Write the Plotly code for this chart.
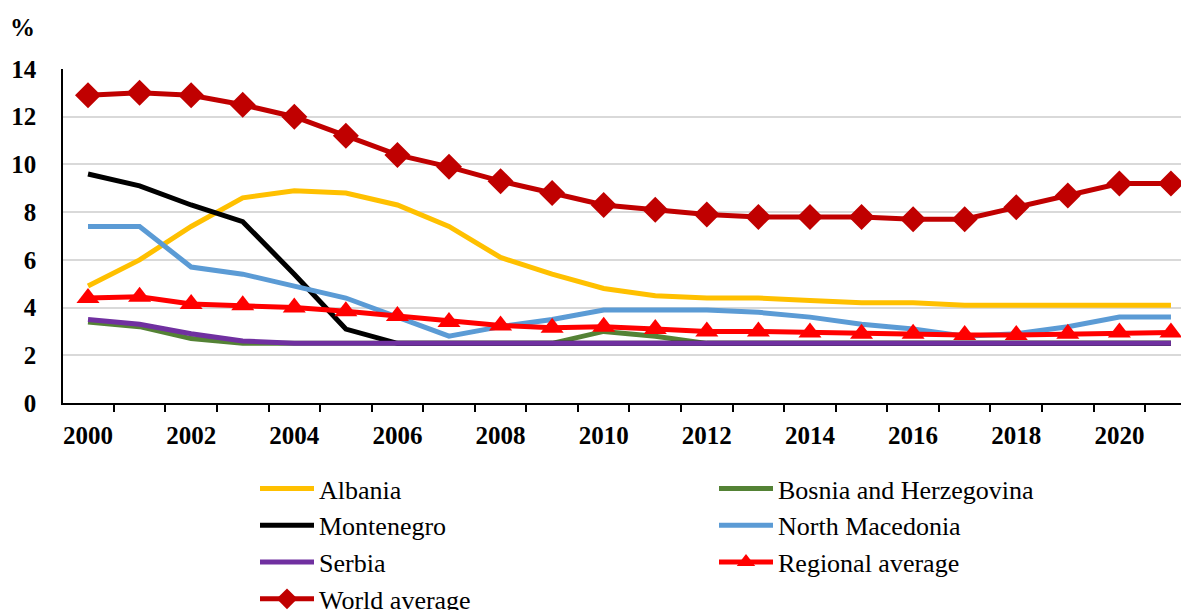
import plotly.graph_objects as go

years = list(range(2000, 2022))
albania = [4.9, 6.0, 7.4, 8.6, 8.9, 8.8, 8.3, 7.4, 6.1, 5.4, 4.8, 4.5, 4.4, 4.4, 4.3, 4.2, 4.2, 4.1, 4.1, 4.1, 4.1, 4.1]
bosnia = [3.4, 3.2, 2.7, 2.5, 2.5, 2.5, 2.5, 2.5, 2.5, 2.5, 3.0, 2.8, 2.5, 2.5, 2.5, 2.5, 2.5, 2.5, 2.5, 2.5, 2.5, 2.5]
montenegro = [9.6, 9.1, 8.3, 7.6, 5.4, 3.1, 2.5, 2.5, 2.5, 2.5, 2.5, 2.5, 2.5, 2.5, 2.5, 2.5, 2.5, 2.5, 2.5, 2.5, 2.5, 2.5]
north_macedonia = [7.4, 7.4, 5.7, 5.4, 4.9, 4.4, 3.6, 2.8, 3.2, 3.5, 3.9, 3.9, 3.9, 3.8, 3.6, 3.3, 3.1, 2.8, 2.9, 3.2, 3.6, 3.6]
serbia = [3.5, 3.3, 2.9, 2.6, 2.5, 2.5, 2.5, 2.5, 2.5, 2.5, 2.5, 2.5, 2.5, 2.5, 2.5, 2.5, 2.5, 2.5, 2.5, 2.5, 2.5, 2.5]
regional = [4.4, 4.45, 4.15, 4.1, 4.0, 3.85, 3.65, 3.4, 3.25, 3.15, 3.2, 3.1, 3.0, 3.0, 2.95, 2.9, 2.9, 2.85, 2.85, 2.9, 2.95, 2.95]
world = [12.9, 13.0, 12.9, 12.5, 12.0, 11.2, 10.4, 9.9, 9.3, 8.8, 8.3, 8.1, 7.9, 7.8, 7.8, 7.8, 7.7, 7.7, 8.2, 8.7, 9.2, 9.2]
label_years = list(range(2000, 2021, 2))
y_ticks = list(range(0, 15, 2))

SERIF = "Liberation Serif, Times New Roman, serif"
W, H = 1181, 602  # page body margin of 8px offsets the figure

fig = go.Figure()

def add(name, y, color, legend, group, marker=None, msize=0):
    kw = dict(x=years, y=y, name=name, legend=legend, legendgroup=group,
              line=dict(color=color, width=5))
    if marker:
        kw["mode"] = "lines+markers"
        kw["marker"] = dict(symbol=marker, size=msize, color=color)
    else:
        kw["mode"] = "lines"
    fig.add_trace(go.Scatter(**kw))

add("Albania", albania, "#FFC000", "legend", "a")
add("Bosnia and Herzegovina", bosnia, "#548235", "legend2", "b")
add("Montenegro", montenegro, "#000000", "legend", "c")
add("North Macedonia", north_macedonia, "#5B9BD5", "legend2", "d")
add("Serbia", serbia, "#7030A0", "legend", "e")
add("Regional average", regional, "#FF0000", "legend2", "f", "triangle-up", 20)
add("World average", world, "#C00000", "legend", "g", "diamond", 20)

leg_common = dict(font=dict(family=SERIF, size=26, color="black"),
                  bgcolor="rgba(0,0,0,0)", itemwidth=54, tracegroupgap=0,
                  xref="container", yref="container", xanchor="left", yanchor="top",
                  traceorder="normal")

fig.update_layout(
    width=W, height=H,
    margin=dict(l=55, r=0, t=61, b=207, autoexpand=False),
    plot_bgcolor="white", paper_bgcolor="white",
    font=dict(family=SERIF, color="black"),
    xaxis=dict(range=[1999.515, 2021.35], tickvals=label_years, ticks="",
               showgrid=False, zeroline=False, showline=True, linecolor="black", linewidth=1.5,
               tickfont=dict(family=SERIF, size=25, color="black", weight="bold"),
               ticklabelstandoff=9, tickangle=0,
               minor=dict(tickvals=[y - 0.5 for y in years] + [2021.5], ticks="outside",
                          ticklen=7, tickcolor="black", tickwidth=1.5, showgrid=False)),
    yaxis=dict(range=[0, 14], tickvals=y_ticks, ticks="outside", ticklen=20,
               tickcolor="rgba(0,0,0,0)", showgrid=True,
               gridcolor="#d9d9d9", gridwidth=1.5, zeroline=False,
               showline=True, linecolor="black", linewidth=1.5,
               tickfont=dict(family=SERIF, size=25, color="black", weight="bold")),
    legend=dict(x=247 / W, y=1 - 457 / H, **leg_common),
    legend2=dict(x=706 / W, y=1 - 457 / H, **leg_common),
    showlegend=True,
    annotations=[dict(text="<b>%</b>", xref="paper", yref="paper",
                      x=(22 - 63) / 1126, y=1 + (69 - 27) / 334,
                      xanchor="center", yanchor="middle", showarrow=False,
                      font=dict(family=SERIF, size=25, color="black"))],
)

fig.write_html("out.html")
